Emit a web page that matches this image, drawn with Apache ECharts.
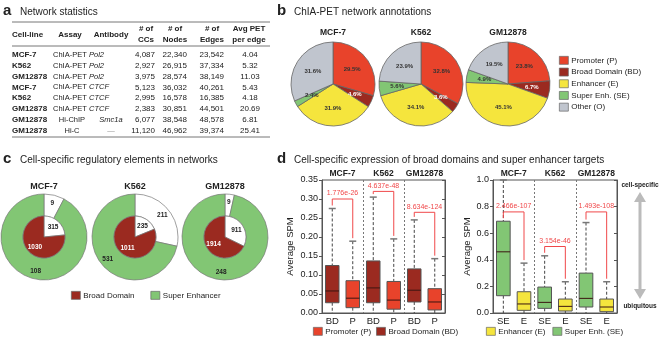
<!DOCTYPE html>
<html>
<head>
<meta charset="utf-8">
<script src="https://cdn.jsdelivr.net/npm/echarts@6/dist/echarts.min.js"></script>
<style>
html, body { margin: 0; padding: 0; background: #fff; }
#fig { width: 660px; height: 337px; }
</style>
</head>
<body>
<div id="fig"></div>
<script>
// ---- panel a: network statistics
const cellLines = ['MCF-7', 'K562', 'GM12878', 'MCF-7', 'K562', 'GM12878', 'GM12878', 'GM12878'];
const assays = ['ChIA-PET', 'ChIA-PET', 'ChIA-PET', 'ChIA-PET', 'ChIA-PET', 'ChIA-PET', 'Hi-ChIP', 'Hi-C'];
const antibodies = ['Pol2', 'Pol2', 'Pol2', 'CTCF', 'CTCF', 'CTCF', 'Smc1a', '—'];
const numCCs = ['4,087', '2,927', '3,975', '5,123', '2,995', '2,383', '6,077', '11,120'];
const numNodes = ['22,340', '26,915', '28,574', '36,032', '16,578', '30,851', '38,548', '46,962'];
const numEdges = ['23,542', '37,334', '38,149', '40,261', '16,385', '44,501', '48,578', '39,374'];
const avgPet = ['4.04', '5.32', '11.03', '5.43', '4.18', '20.69', '6.81', '25.41'];

// ---- panel b: annotation pies (percent)
const cells = ['MCF-7', 'K562', 'GM12878'];
const annoNames = ['Promoter (P)', 'Broad Domain (BD)', 'Enhancer (E)', 'Super Enh. (SE)', 'Other (O)'];
const annoMCF7 = [29.5, 4.6, 31.9, 2.4, 31.6];
const annoK562 = [32.8, 3.6, 34.1, 5.6, 23.9];
const annoGM12878 = [23.8, 6.7, 45.1, 4.9, 19.5];

// ---- panel c: regulatory elements in networks
const bdCounts = [1030, 1011, 1914];
const bdRest = [315, 235, 911];
const seCounts = [108, 531, 248];
const seRest = [9, 211, 9];

// ---- panel d: expression boxes [min, q1, median, q3, max]
const boxCats1 = ['BD', 'P', 'BD', 'P', 'BD', 'P'];
const boxCats2 = ['SE', 'E', 'SE', 'E', 'SE', 'E'];
const bdBoxes = [[0, 0.027, 0.058, 0.125, 0.275], [0, 0.027, 0.066, 0.137, 0.305], [0, 0.029, 0.060, 0.116, 0.245]];
const pBoxes = [[0, 0.014, 0.039, 0.085, 0.189], [0, 0.010, 0.034, 0.083, 0.195], [0, 0.008, 0.029, 0.064, 0.143]];
const seBoxes = [[0, 0.13, 0.46, 0.69, 1.0], [0, 0.035, 0.08, 0.195, 0.43], [0, 0.045, 0.11, 0.30, 0.68]];
const eBoxes = [[0, 0.02, 0.068, 0.16, 0.375], [0, 0.015, 0.05, 0.105, 0.235], [0, 0.01, 0.045, 0.105, 0.235]];
const pvals1 = ['1.776e-26', '4.637e-48', '8.634e-124'];
const pvals2 = ['2.466e-107', '3.154e-46', '1.493e-108'];
const bracket1 = [0.30, 0.32, 0.265];
const bracket2 = [0.76, 0.50, 0.76];

const FONT = 'Liberation Sans, Arial, sans-serif';
const COL = { P: '#e8432b', BD: '#9b2a20', E: '#f5e53d', SE: '#82c674', O: '#c0c5ce' };
const annoColors = [COL.P, COL.BD, COL.E, COL.SE, COL.O];
const RED = '#f0484a';

function txt(x, y, s, a, extra) {
    return {
        type: 'text', x: x, y: y, silent: true,
        style: Object.assign({
            text: s, fill: '#222', fontSize: 8, fontFamily: FONT,
            textAlign: a || 'left', align: a || 'left',
            textVerticalAlign: 'middle', verticalAlign: 'middle'
        }, extra || {})
    };
}
function hline(x1, x2, y, color) {
    return { type: 'line', silent: true, shape: { x1: x1, y1: y, x2: x2, y2: y }, style: { stroke: color || '#777', lineWidth: 1 } };
}

// table, titles and other text
const gfx = [];
gfx.push(txt(3, 11, 'a', 'left', { fontSize: 15, fontWeight: 'bold' }));
gfx.push(txt(20, 12, 'Network statistics', 'left', { fontSize: 10 }));
gfx.push(txt(277, 11, 'b', 'left', { fontSize: 15, fontWeight: 'bold' }));
gfx.push(txt(294, 12, 'ChIA-PET network annotations', 'left', { fontSize: 10 }));
gfx.push(txt(3, 159, 'c', 'left', { fontSize: 15, fontWeight: 'bold' }));
gfx.push(txt(20, 160, 'Cell-specific regulatory elements in networks', 'left', { fontSize: 10 }));
gfx.push(txt(277, 159, 'd', 'left', { fontSize: 15, fontWeight: 'bold' }));
gfx.push(txt(294, 160, 'Cell-specific expression of broad domains and super enhancer targets', 'left', { fontSize: 10 }));

const hb = { fontWeight: 'bold', fontSize: 8 };
gfx.push(hline(12, 270, 22));
gfx.push(txt(12, 35, 'Cell-line', 'left', hb));
gfx.push(txt(70, 35, 'Assay', 'center', hb));
gfx.push(txt(111, 35, 'Antibody', 'center', hb));
[[146, 'CCs'], [175, 'Nodes'], [212, 'Edges']].forEach(function (h) {
    gfx.push(txt(h[0], 29, '# of', 'center', hb));
    gfx.push(txt(h[0], 40, h[1], 'center', hb));
});
gfx.push(txt(249, 29, 'Avg PET', 'center', hb));
gfx.push(txt(249, 40, 'per edge', 'center', hb));
gfx.push(hline(12, 270, 46));
cellLines.forEach(function (c, i) {
    const y = 55 + i * 10.8;
    const chia = assays[i] === 'ChIA-PET';
    gfx.push(txt(12, y, c, 'left', { fontWeight: 'bold' }));
    gfx.push(chia ? txt(53, y, assays[i], 'left', { fontSize: 7.5 }) : txt(72, y, assays[i], 'center', { fontSize: 7.5 }));
    gfx.push(chia ? txt(89, y, antibodies[i], 'left', { fontStyle: 'italic', fontSize: 7.5 })
                  : txt(111, y, antibodies[i], 'center', { fontStyle: 'italic', fontSize: 7.5, fill: i === 7 ? '#999' : '#222' }));
    gfx.push(txt(155, y, numCCs[i], 'right'));
    gfx.push(txt(187, y, numNodes[i], 'right'));
    gfx.push(txt(224, y, numEdges[i], 'right'));
    gfx.push(txt(250, y, avgPet[i], 'center'));
});
gfx.push(hline(12, 270, 137));

// pie / donut titles
const pieX = [333, 421, 508];
const donutX = [44, 135, 225];
cells.forEach(function (c, i) {
    gfx.push(txt(pieX[i], 33, c, 'center', { fontWeight: 'bold', fontSize: 8.5 }));
    gfx.push(txt(donutX[i], 187, c, 'center', { fontWeight: 'bold', fontSize: 9 }));
});

// cell-specific / ubiquitous arrow
gfx.push(txt(640, 185, 'cell-specific', 'center', { fontWeight: 'bold', fontSize: 6.5 }));
gfx.push(txt(640, 306, 'ubiquitous', 'center', { fontWeight: 'bold', fontSize: 6.5 }));
gfx.push({ type: 'line', silent: true, shape: { x1: 640, y1: 200, x2: 640, y2: 290 }, style: { stroke: '#bbb', lineWidth: 3 } });
gfx.push({ type: 'polygon', silent: true, shape: { points: [[640, 192], [634, 202], [646, 202]] }, style: { fill: '#bbb' } });
gfx.push({ type: 'polygon', silent: true, shape: { points: [[640, 299], [634, 289], [646, 289]] }, style: { fill: '#bbb' } });

function annoPie(vals, cx) {
    return {
        type: 'pie', center: [cx, 84], radius: 42, startAngle: 90, clockwise: true,
        animation: false, silent: true,
        data: annoNames.map(function (n, i) {
            return { name: n, value: vals[i], itemStyle: { color: annoColors[i] }, label: { color: i === 1 ? '#fff' : '#333' } };
        }),
        itemStyle: { borderColor: '#666', borderWidth: 0.8 },
        label: { show: true, position: 'inside', fontSize: 6, fontWeight: 'bold', fontFamily: FONT,
                 formatter: function (p) { return p.value.toFixed(1) + '%'; } },
        labelLine: { show: false },
        emphasis: { disabled: true }
    };
}

function donut(i) {
    const base = { type: 'pie', center: [donutX[i], 237], startAngle: 90, clockwise: true,
                   animation: false, silent: true, labelLine: { show: false }, emphasis: { disabled: true },
                   itemStyle: { borderColor: '#777', borderWidth: 0.7 },
                   label: { show: true, position: 'inside', fontSize: 6.5, fontWeight: 'bold', color: '#222', fontFamily: FONT,
                            formatter: '{c}' } };
    return [
        Object.assign({}, base, { radius: [21, 43], data: [
            { name: '', value: seRest[i], itemStyle: { color: '#fff' } },
            { name: 'Super Enhancer', value: seCounts[i], itemStyle: { color: COL.SE } }
        ] }),
        Object.assign({}, base, { radius: [0, 21], data: [
            { name: '', value: bdRest[i], itemStyle: { color: '#fff' } },
            { name: 'Broad Domain', value: bdCounts[i], itemStyle: { color: COL.BD }, label: { color: '#fff' } }
        ] })
    ];
}

function boxRender(color) {
    return function (params, api) {
        const x = api.value(0);
        const pMin = api.coord([x, api.value(1)]);
        const pQ1 = api.coord([x, api.value(2)]);
        const pMed = api.coord([x, api.value(3)]);
        const pQ3 = api.coord([x, api.value(4)]);
        const pMax = api.coord([x, api.value(5)]);
        const w = api.size([1, 0])[0] * 0.66;
        const cx = pMin[0];
        const dash = { stroke: '#444', lineWidth: 1, lineDash: [3, 2] };
        return { type: 'group', children: [
            { type: 'line', shape: { x1: cx, y1: pMax[1], x2: cx, y2: pQ3[1] }, style: dash },
            { type: 'line', shape: { x1: cx, y1: pQ1[1], x2: cx, y2: pMin[1] }, style: dash },
            { type: 'line', shape: { x1: cx - 3.5, y1: pMax[1], x2: cx + 3.5, y2: pMax[1] }, style: { stroke: '#777', lineWidth: 1.5 } },
            { type: 'rect', shape: { x: cx - w / 2, y: pQ3[1], width: w, height: pQ1[1] - pQ3[1] }, style: { fill: color, stroke: '#555', lineWidth: 1 } },
            { type: 'line', shape: { x1: cx - w / 2, y1: pMed[1], x2: cx + w / 2, y2: pMed[1] }, style: { stroke: '#3b1510', lineWidth: 1 } }
        ] };
    };
}

// p-value brackets, plus the dashed separators between cell lines
function bracketRender(leftBoxes, rightBoxes, labels) {
    return function (params, api) {
        const i = params.dataIndex;
        const lvl = api.value(1);
        const cs = params.coordSys;
        const band = api.size([1, 0])[0];
        const xl = api.coord([2 * i, 0])[0];
        const xr = api.coord([2 * i + 1, 0])[0];
        const y = api.coord([0, lvl])[1];
        const lb = leftBoxes[i], rb = rightBoxes[i];
        const yl = api.coord([0, lb[4] < lvl ? lb[4] : lb[3]])[1] - 3;
        const yr = api.coord([0, rb[4]])[1] - 3;
        const st = { stroke: RED, lineWidth: 1, fill: null };
        const kids = [
            { type: 'polyline', shape: { points: [[xl, yl], [xl, y], [xr, y], [xr, yr]] }, style: st },
            { type: 'text', x: (xl + xr) / 2, y: y - 2, style: { text: labels[i], fill: RED, fontSize: 7, fontFamily: FONT,
              align: 'center', verticalAlign: 'bottom', textAlign: 'center', textVerticalAlign: 'bottom' } }
        ];
        if (i > 0) {
            const sx = Math.round(xl - band / 2) + 0.5;
            kids.push({ type: 'line', shape: { x1: sx, y1: cs.y, x2: sx, y2: cs.y + cs.height },
                        style: { stroke: '#777', lineWidth: 1, lineDash: [2, 2] } });
        }
        return { type: 'group', children: kids };
    };
}

function boxData(boxes, offset) {
    return boxes.map(function (b, i) { return [2 * i + offset].concat(b); });
}

function xBottom(g, cats) {
    return { gridIndex: g, type: 'category', data: cats,
        axisLine: { show: true, lineStyle: { color: '#555' } }, axisTick: { show: false },
        axisLabel: { interval: 0, fontSize: 9.5, color: '#222', margin: 3, fontFamily: FONT },
        splitLine: { show: false } };
}
function xTop(g) {
    return { gridIndex: g, type: 'category', position: 'top', data: cells,
        axisLine: { show: false }, axisTick: { show: false },
        axisLabel: { interval: 0, fontSize: 8.5, fontWeight: 'bold', color: '#222', margin: 2, fontFamily: FONT } };
}
function yLeft(g, max, step, digits, gap) {
    return { gridIndex: g, type: 'value', min: 0, max: max, interval: step,
        axisLine: { show: true, lineStyle: { color: '#555' } },
        axisTick: { show: true, length: 3, lineStyle: { color: '#555' } },
        axisLabel: { fontSize: 9, color: '#222', margin: 4, fontFamily: FONT, formatter: function (v) { return v.toFixed(digits); } },
        splitLine: { show: false },
        name: 'Average SPM', nameLocation: 'middle', nameRotate: 90, nameGap: gap,
        nameTextStyle: { fontSize: 9.5, color: '#222', fontFamily: FONT } };
}
function yRight(g, max, step) {
    return { gridIndex: g, type: 'value', position: 'right', min: 0, max: max, interval: step,
        axisLine: { show: true, lineStyle: { color: '#555' } },
        axisTick: { show: true, inside: true, length: 3, lineStyle: { color: '#555' } },
        axisLabel: { show: false }, splitLine: { show: false } };
}

const legendBase = { icon: 'rect', itemWidth: 9, itemHeight: 8, selectedMode: false, padding: 0,
    itemStyle: { borderColor: '#666', borderWidth: 0.7 },
    textStyle: { fontSize: 8, color: '#222', fontFamily: FONT, padding: [0, 0, 0, -2] } };

const chart = echarts.init(document.getElementById('fig'), null, { renderer: 'canvas' });
chart.setOption({
    animation: false,
    textStyle: { fontFamily: FONT },
    graphic: { elements: gfx },
    legend: [
        Object.assign({}, legendBase, { data: annoNames, orient: 'vertical', left: 559, top: 56, itemGap: 3 }),
        Object.assign({}, legendBase, { data: ['Broad Domain', 'Super Enhancer'], left: 71, top: 291, itemGap: 16 }),
        Object.assign({}, legendBase, { data: ['Promoter (P)', 'Broad Domain (BD)'], left: 313, top: 327, itemGap: 5 }),
        Object.assign({}, legendBase, { data: ['Enhancer (E)', 'Super Enh. (SE)'], left: 486, top: 327, itemGap: 7 })
    ],
    grid: [
        { left: 322, top: 180, width: 123, height: 133, show: true, borderColor: '#555', borderWidth: 1 },
        { left: 493, top: 180, width: 124, height: 133, show: true, borderColor: '#555', borderWidth: 1 }
    ],
    xAxis: [xBottom(0, boxCats1), xTop(0), xBottom(1, boxCats2), xTop(1)],
    yAxis: [yLeft(0, 0.35, 0.05, 2, 27), yRight(0, 0.35, 0.05), yLeft(1, 1.0, 0.2, 1, 20), yRight(1, 1.0, 0.2)],
    series: [
        annoPie(annoMCF7, pieX[0]), annoPie(annoK562, pieX[1]), annoPie(annoGM12878, pieX[2])
    ].concat(donut(0), donut(1), donut(2), [
        { type: 'custom', name: 'bd-box', xAxisIndex: 0, yAxisIndex: 0, renderItem: boxRender(COL.BD),
          data: boxData(bdBoxes, 0), encode: { x: 0, y: [1, 2, 3, 4, 5] }, silent: true },
        { type: 'custom', name: 'p-box', xAxisIndex: 0, yAxisIndex: 0, renderItem: boxRender(COL.P),
          data: boxData(pBoxes, 1), encode: { x: 0, y: [1, 2, 3, 4, 5] }, silent: true },
        { type: 'custom', name: 'bracket1', xAxisIndex: 0, yAxisIndex: 0, renderItem: bracketRender(bdBoxes, pBoxes, pvals1),
          data: bracket1.map(function (v, i) { return [2 * i, v]; }), encode: { x: 0, y: 1 }, silent: true },
        { type: 'custom', name: 'se-box', xAxisIndex: 2, yAxisIndex: 2, renderItem: boxRender(COL.SE),
          data: boxData(seBoxes, 0), encode: { x: 0, y: [1, 2, 3, 4, 5] }, silent: true },
        { type: 'custom', name: 'e-box', xAxisIndex: 2, yAxisIndex: 2, renderItem: boxRender(COL.E),
          data: boxData(eBoxes, 1), encode: { x: 0, y: [1, 2, 3, 4, 5] }, silent: true },
        { type: 'custom', name: 'bracket2', xAxisIndex: 2, yAxisIndex: 2, renderItem: bracketRender(seBoxes, eBoxes, pvals2),
          data: bracket2.map(function (v, i) { return [2 * i, v]; }), encode: { x: 0, y: 1 }, silent: true }
    ])
});
</script>
</body>
</html>
